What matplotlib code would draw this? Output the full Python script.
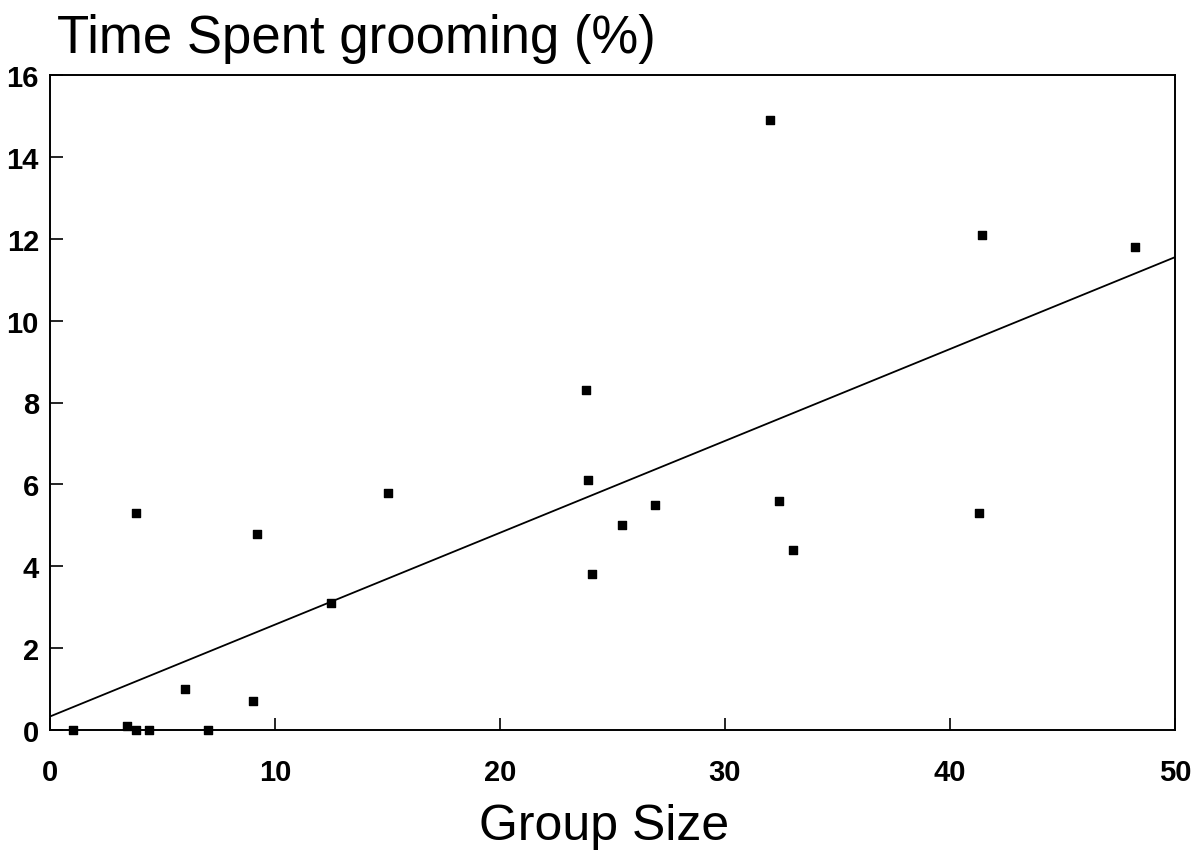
import matplotlib
matplotlib.use("Agg")
import matplotlib.pyplot as plt

# Data
group_size = [1.0, 3.4, 3.8, 4.4, 7.0, 6.0, 9.0, 3.8, 9.2, 15.0, 12.5,
              23.8, 23.9, 24.1, 25.4, 26.9, 32.0, 32.4, 33.0, 41.3, 41.4, 48.2]
grooming = [0.0, 0.1, 0.0, 0.0, 0.0, 1.0, 0.7, 5.3, 4.8, 5.8, 3.1,
            8.3, 6.1, 3.8, 5.0, 5.5, 14.9, 5.6, 4.4, 5.3, 12.1, 11.8]
fit_x = [0, 50]
fit_y = [0.33, 11.55]
x_ticks = [0, 10, 20, 30, 40, 50]
y_ticks = [0, 2, 4, 6, 8, 10, 12, 14, 16]

plt.rcParams['font.family'] = ['Liberation Sans', 'DejaVu Sans']

fig = plt.figure(figsize=(11.95, 8.53), dpi=100)
W, H = 1195, 853
left, right, top, bottom = 50, 1175, 76, 731
ax = fig.add_axes([left / W, 1 - bottom / H, (right - left) / W, (bottom - top) / H])

ax.plot(fit_x, fit_y, color='black', lw=1.3, zorder=2)
ax.scatter(group_size, grooming, s=26, marker='s', color='black', zorder=3,
           clip_on=False)

ax.set_xlim(0, 50)
ax.set_ylim(0, 16)
ax.set_xticks(x_ticks)
ax.set_yticks(y_ticks)
ax.set_xticklabels([str(v) for v in x_ticks], fontsize=21, fontweight='bold')
ax.set_yticklabels([str(v) for v in y_ticks], fontsize=21, fontweight='bold')
ax.tick_params(axis='x', direction='in', length=9, width=1.2, pad=20,
               top=False)
ax.tick_params(axis='y', direction='in', length=9, width=1.2, pad=8,
               right=False)
for s in ax.spines.values():
    s.set_linewidth(1.4)

fig.text(57 / W, 1 - 53 / H, 'Time Spent grooming (%)', fontsize=38,
         ha='left', va='baseline')
fig.text(604 / W, 1 - 840 / H, 'Group Size', fontsize=36,
         ha='center', va='baseline')

fig.savefig('out.png', dpi=100, facecolor='white')
